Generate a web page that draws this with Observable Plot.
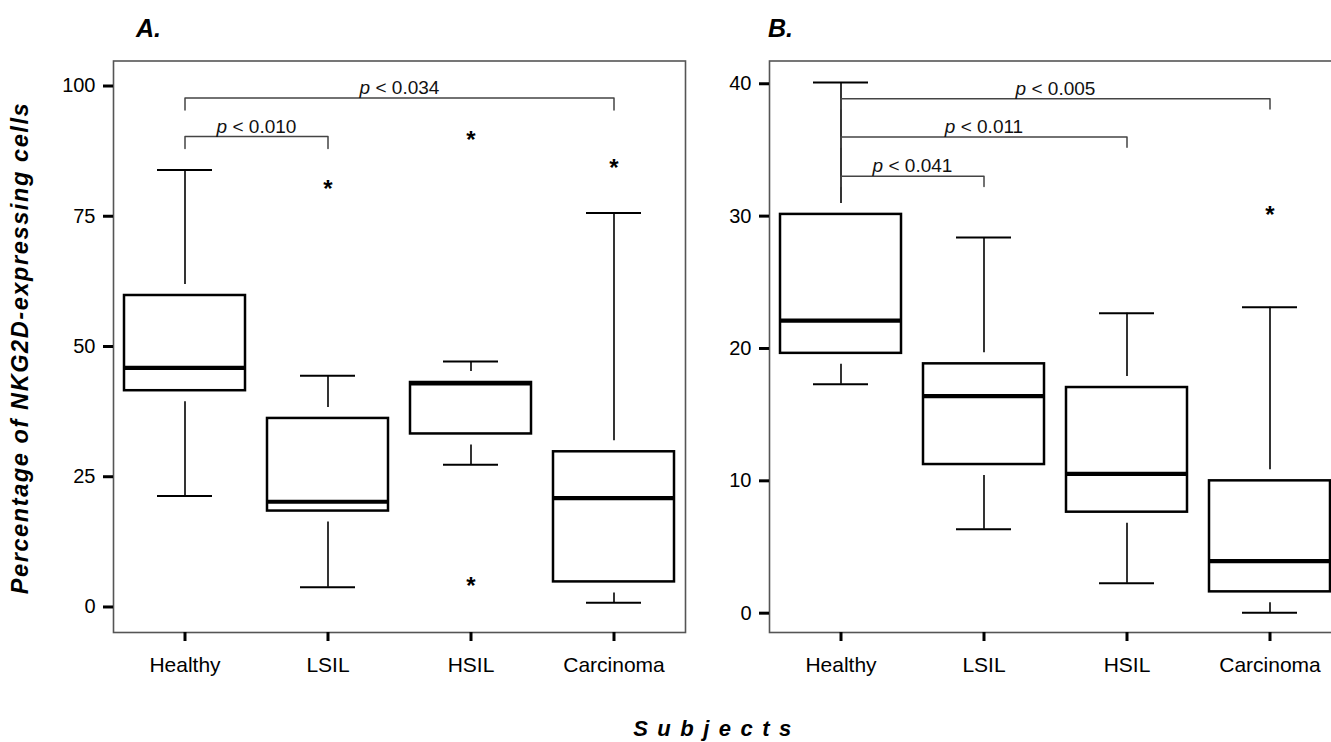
<!DOCTYPE html>
<html>
<head>
<meta charset="utf-8">
<script src="https://cdn.jsdelivr.net/npm/d3@7"></script>
<script src="https://cdn.jsdelivr.net/npm/@observablehq/plot@0.6"></script>
<style>
  html, body { margin: 0; padding: 0; background: #fff; }
  body { width: 1331px; height: 742px; overflow: hidden; position: relative;
         font-family: "Liberation Sans", Arial, Helvetica, sans-serif; }
  .panel { position: absolute; top: 0; width: 700px; height: 690px; }
  .panel svg { max-width: none !important; }
  .lab { position: absolute; font-weight: bold; font-style: italic; white-space: nowrap;
         line-height: 1; color: #000; }
</style>
</head>
<body>
<div id="panelA" class="panel" style="left:0px"></div>
<div id="panelB" class="panel" style="left:690px"></div>
<div class="lab" style="left:136px; top:16px; font-size:25px;">A.</div>
<div class="lab" style="left:768px; top:16px; font-size:25px;">B.</div>
<div class="lab" style="left:21.4px; top:348px; font-size:23.5px; letter-spacing:1.6px; transform: translate(-50%, -50%) rotate(-90deg);">Percentage of NKG2D-expressing cells</div>
<div class="lab" style="left:717px; top:718px; font-size:22px; letter-spacing:9.5px; transform: translateX(-50%);">Subjects</div>
<script>
// ---------- data ----------
const categories = ["Healthy", "LSIL", "HSIL", "Carcinoma"];

// Panel A
const aLow    = [21.3, 3.8, 27.3, 0.8];
const aQ1     = [39.4, 16.3, 31.1, 2.7];
const aMedian = [45.9, 20.2, 42.9, 20.9];
const aQ3     = [61.9, 38.3, 45.2, 31.9];
const aHigh   = [83.9, 44.4, 47.1, 75.6];
const aOutlierGroup = ["LSIL", "HSIL", "HSIL", "Carcinoma"];
const aOutlierValue = [81.3, 90.7, 5.2, 85.3];
const aTicks = [0, 25, 50, 75, 100];
const aBracketFrom  = ["Healthy", "Healthy"];
const aBracketTo    = ["Carcinoma", "LSIL"];
const aBracketLevel = [97.7, 90.3];
const aBracketLeg   = [95.4, 88.0];
const aBracketLabel = ["p < 0.034", "p < 0.010"];

// Panel B
const bLow    = [17.3, 6.35, 2.27, 0.03];
const bQ1     = [18.8, 10.4, 6.8, 0.78];
const bMedian = [22.1, 16.4, 10.53, 3.93];
const bQ3     = [30.96, 19.67, 17.88, 10.83];
const bHigh   = [40.1, 28.39, 22.67, 23.12];
const bOutlierGroup = ["Carcinoma"];
const bOutlierValue = [30.48];
const bTicks = [0, 10, 20, 30, 40];
const bBracketFrom  = ["Healthy", "Healthy", "Healthy"];
const bBracketTo    = ["Carcinoma", "HSIL", "LSIL"];
const bBracketLevel = [38.87, 35.97, 33.02];
const bBracketLeg   = [38.1, 35.21, 32.24];
const bBracketLabel = ["p < 0.005", "p < 0.011", "p < 0.041"];

// ---------- drawing ----------
function panel({low, q1, median, q3, high, outGroup, outValue, ticks, domain,
                bFrom, bTo, bLevel, bLeg, bLabel, marginLeft, marginRight}) {
  const width = 700, height = 690, marginTop = 60.5, marginBottom = 58;
  const boxes = categories.map((c, i) => ({group: c, lo: low[i], q1: q1[i], med: median[i], q3: q3[i], hi: high[i]}));
  const outliers = outGroup.map((g, i) => ({group: g, value: outValue[i]}));
  const bracketPts = [];
  bFrom.forEach((f, i) => {
    bracketPts.push({k: i, x: f, y: bLeg[i]});
    bracketPts.push({k: i, x: f, y: bLevel[i]});
    bracketPts.push({k: i, x: bTo[i], y: bLevel[i]});
    bracketPts.push({k: i, x: bTo[i], y: bLeg[i]});
  });
  const bw = (width - marginLeft - marginRight) / categories.length;
  const labelMarks = bFrom.map((f, i) => Plot.text([{x: f, y: bLevel[i], t: bLabel[i]}], {
    x: "x", y: "y", text: "t", fontSize: 19, fill: "#111",
    dx: (categories.indexOf(bTo[i]) - categories.indexOf(f)) * bw / 2, dy: -10
  }));

  const svg = Plot.plot({
    width, height, marginTop, marginBottom, marginLeft, marginRight,
    style: {fontFamily: "'Liberation Sans', Arial, sans-serif", color: "#000", background: "transparent", overflow: "visible", maxWidth: "none"},
    x: {type: "band", domain: categories, padding: 0},
    y: {domain},
    marks: [
      Plot.frame({stroke: "#555", strokeWidth: 1.6}),
      Plot.axisY({ticks, tickSize: 10, tickPadding: 8, strokeWidth: 3, fontSize: 20, label: null, stroke: "#000"}),
      Plot.axisX({tickSize: 9, tickPadding: 16, strokeWidth: 3, fontSize: 21, label: null, stroke: "#000"}),
      Plot.ruleX(boxes, {x: "group", y1: "lo", y2: "q1", stroke: "#000", strokeWidth: 1.6}),
      Plot.ruleX(boxes, {x: "group", y1: "q3", y2: "hi", stroke: "#000", strokeWidth: 1.6}),
      Plot.tickY(boxes, {x: "group", y: "lo", inset: 44, stroke: "#000", strokeWidth: 2}),
      Plot.tickY(boxes, {x: "group", y: "hi", inset: 44, stroke: "#000", strokeWidth: 2}),
      Plot.barY(boxes, {x: "group", y1: "q1", y2: "q3", inset: 11, fill: "#fff", stroke: "#000", strokeWidth: 2.5}),
      Plot.tickY(boxes, {x: "group", y: "med", inset: 10, stroke: "#000", strokeWidth: 4.2}),
      Plot.text(outliers, {x: "group", y: "value", text: () => "*", fontSize: 24, fontWeight: "bold", fill: "#000", dy: 6}),
      Plot.line(bracketPts, {x: "x", y: "y", z: "k", stroke: "#444", strokeWidth: 1.5, curve: "linear"}),
      ...labelMarks
    ]
  });
  const ns = "http://www.w3.org/2000/svg";
  svg.querySelectorAll("text").forEach(t => {
    if (/^p </.test(t.textContent) && t.children.length === 0) {
      const rest = t.textContent.slice(1);
      t.textContent = "";
      const ts = document.createElementNS(ns, "tspan");
      ts.setAttribute("font-style", "italic");
      ts.textContent = "p";
      t.appendChild(ts);
      t.appendChild(document.createTextNode(rest));
    }
  });
  return svg;
}

document.getElementById("panelA").appendChild(panel({
  low: aLow, q1: aQ1, median: aMedian, q3: aQ3, high: aHigh,
  outGroup: aOutlierGroup, outValue: aOutlierValue, ticks: aTicks, domain: [-4.9, 104.8],
  bFrom: aBracketFrom, bTo: aBracketTo, bLevel: aBracketLevel, bLeg: aBracketLeg, bLabel: aBracketLabel,
  marginLeft: 113, marginRight: 15
}));
document.getElementById("panelB").appendChild(panel({
  low: bLow, q1: bQ1, median: bMedian, q3: bQ3, high: bHigh,
  outGroup: bOutlierGroup, outValue: bOutlierValue, ticks: bTicks, domain: [-1.46, 41.72],
  bFrom: bBracketFrom, bTo: bBracketTo, bLevel: bBracketLevel, bLeg: bBracketLeg, bLabel: bBracketLabel,
  marginLeft: 79, marginRight: 49
}));
</script>
</body>
</html>
